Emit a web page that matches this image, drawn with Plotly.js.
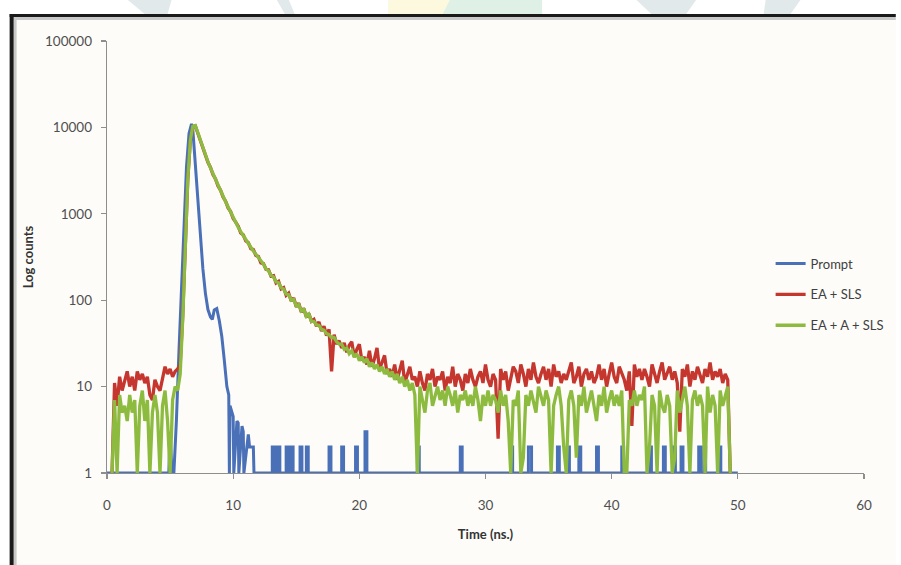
<!DOCTYPE html>
<html>
<head>
<meta charset="utf-8">
<script src="https://cdn.plot.ly/plotly-3.0.1.min.js"></script>
<style>
  html, body { margin: 0; padding: 0; background: #ffffff; }
  #chart { width: 901px; height: 565px; }
</style>
</head>
<body>
<div id="chart"></div>
<script>
// ---- Data ----
// Time axis (ns) for the two sample decays
const time = [
  0.4,0.6,0.8,1.0,1.2,1.4,1.6,1.8,2.0,2.2,
  2.4,2.6,2.8,3.0,3.2,3.4,3.6,3.8,4.0,4.2,
  4.4,4.6,4.8,5.0,5.2,5.4,5.6,5.8,6.0,6.2,
  6.4,6.6,6.8,7.0,7.2,7.4,7.6,7.8,8.0,8.2,
  8.4,8.6,8.8,9.0,9.2,9.4,9.6,9.8,10.0,10.2,
  10.4,10.6,10.8,11.0,11.2,11.4,11.6,11.8,12.0,12.2,
  12.4,12.6,12.8,13.0,13.2,13.4,13.6,13.8,14.0,14.2,
  14.4,14.6,14.8,15.0,15.2,15.4,15.6,15.8,16.0,16.2,
  16.4,16.6,16.8,17.0,17.2,17.4,17.6,17.8,18.0,18.2,
  18.4,18.6,18.8,19.0,19.2,19.4,19.6,19.8,20.0,20.2,
  20.4,20.6,20.8,21.0,21.2,21.4,21.6,21.8,22.0,22.2,
  22.4,22.6,22.8,23.0,23.2,23.4,23.6,23.8,24.0,24.2,
  24.4,24.6,24.8,25.0,25.2,25.4,25.6,25.8,26.0,26.2,
  26.4,26.6,26.8,27.0,27.2,27.4,27.6,27.8,28.0,28.2,
  28.4,28.6,28.8,29.0,29.2,29.4,29.6,29.8,30.0,30.2,
  30.4,30.6,30.8,31.0,31.2,31.4,31.6,31.8,32.0,32.2,
  32.4,32.6,32.8,33.0,33.2,33.4,33.6,33.8,34.0,34.2,
  34.4,34.6,34.8,35.0,35.2,35.4,35.6,35.8,36.0,36.2,
  36.4,36.6,36.8,37.0,37.2,37.4,37.6,37.8,38.0,38.2,
  38.4,38.6,38.8,39.0,39.2,39.4,39.6,39.8,40.0,40.2,
  40.4,40.6,40.8,41.0,41.2,41.4,41.6,41.8,42.0,42.2,
  42.4,42.6,42.8,43.0,43.2,43.4,43.6,43.8,44.0,44.2,
  44.4,44.6,44.8,45.0,45.2,45.4,45.6,45.8,46.0,46.2,
  46.4,46.6,46.8,47.0,47.2,47.4,47.6,47.8,48.0,48.2,
  48.4,48.6,48.8,49.0,49.2,49.4
];

// EA + SLS (counts)
const eaSls = [
  1,11,6,13,9,12,15,10,13,9,
  15,12,14,11,13,8,7,12,10,9,
  12,17,14,16,13,15,16,18,65,420,
  2450,6900,10200,10400,8500,7100,5700,4850,3950,3450,
  2850,2530,2100,1880,1560,1400,1170,1060,880,800,
  720,600,570,485,465,395,385,330,320,270,
  265,228,225,190,192,158,165,135,140,114,
  121,98,106,84,92,73,80,64,70,57,
  60,50,56,44,50,39,46,15,40,31,
  34,28,32,25,30,33,22,27,31,20,
  22,18,26,17,21,28,16,19,23,14,
  16,13,18,12,15,20,11,14,17,12,
  13,10,15,11,9,14,12,16,10,13,
  12,15,9,13,11,17,10,14,12,9,
  14,11,16,12,10,13,15,11,18,12,
  10,14,12,2.5,16,12,15,9,13,17,
  15,11,18,14,10,16,12,19,13,11,
  14,17,12,16,10,18,13,15,11,14,
  12,15,19,11,13,17,10,14,16,12,
  15,11,13,18,12,16,10,14,19,13,
  11,17,14,12,9,15,3.5,18,13,16,
  12,16,13,10,18,14,11,15,19,12,
  14,17,12,15,11,3,16,13,18,10,
  15,12,17,14,11,16,13,19,12,15,
  13,16,11,14,12,1
];

// EA + A + SLS (counts)
const eaASls = [
  1,7,1,8,5,6,4,8,5,7,
  1,6,9,4,7,1,5,8,5,1,
  6,9,4,1,7,10,9,14,60,400,
  2500,7000,10300,10500,8600,7000,5800,4800,4000,3400,
  2900,2500,2150,1850,1600,1380,1200,1040,900,790,
  700,620,555,500,450,410,372,340,310,282,
  262,230,220,193,186,163,159,139,135,118,
  116,100,102,86,89,75,78,65,69,57,
  57,52,51,46,45,41,40,37,37,33,
  31,31,27,28,24,26,22,24,20,22,
  19,21,17,19,16,18,15,17,14,16,
  13,15,12,14,11,13,10,12,9,11,
  8,1,10,7,5,9,11,6,8,10,
  7,9,6,10,8,6,9,5,8,7,
  9,6,8,6,10,7,4,8,6,9,
  6,8,7,5,9,6,8,4,1,7,
  6,9,1,1.5,8,6,9,7,5,10,
  8,6,9,7,1,6,8,10,6,2,
  1,7,9,6,1.5,8,6,10,5,7,
  9,6,4,8,6,10,5,7,9,6,
  8,6,9,1,1,7,6,9,6,8,
  7,10,1,2,8,6,1,9,6,5,
  8,6,1,1.5,9,5,7,10,6,1,
  7,9,6,8,6,1,10,5,8,6,
  1,9,6,8,10,1
];

// Prompt (instrument response): time and counts
const promptTime = [
  0,4.9,5.0,5.15,5.3,5.5,5.7,5.9,6.1,6.3,6.5,6.7,6.8,7.0,7.2,7.4,7.6,7.8,8.0,8.2,
  8.35,8.5,8.7,8.9,9.1,9.3,9.5,9.65,9.7,9.75,9.9,10.0,10.05,10.3,10.4,10.45,10.7,10.8,10.85,11.2,
  11.3,11.6,11.65,
  13.1,13.1,13.3,13.3, 13.5,13.5,13.7,13.7, 14.2,14.2,14.4,14.4, 14.55,14.55,14.75,14.75,
  15.3,15.3,15.45,15.45, 15.8,15.8,15.95,15.95, 17.6,17.6,17.75,17.75, 18.6,18.6,18.75,18.75,
  19.7,19.7,19.85,19.85, 20.45,20.45,20.6,20.6, 24.6,24.6,24.75,24.75, 28.0,28.0,28.15,28.15,
  32.0,32.0,32.15,32.15, 33.4,33.4,33.65,33.65, 35.7,35.7,35.85,35.85, 36.5,36.5,36.65,36.65,
  37.4,37.4,37.55,37.55, 38.8,38.8,38.95,38.95, 40.8,40.8,40.95,40.95, 43.0,43.0,43.15,43.15,
  44.1,44.1,44.25,44.25, 44.9,44.9,45.05,45.05, 45.5,45.5,45.65,45.65, 46.9,46.9,47.05,47.05,
  47.3,47.3,47.45,47.45, 48.5,48.5,48.65,48.65, 50.0
];
const promptCounts = [
  1,1,3,1,1,4,25,150,900,3500,8500,11000,9500,3800,1500,560,230,120,78,64,
  60,77,80,58,38,20,10,8,1,6,5,4.5,1,4,3.8,1,3.5,3,1,2.8,
  2,2,1,
  1,2,2,1, 1,2,2,1, 1,2,2,1, 1,2,2,1,
  1,2,2,1, 1,2,2,1, 1,2,2,1, 1,2,2,1,
  1,2,2,1, 1,3,3,1, 1,2,2,1, 1,2,2,1,
  1,2,2,1, 1,2,2,1, 1,2,2,1, 1,2,2,1,
  1,2,2,1, 1,2,2,1, 1,2,2,1, 1,2,2,1,
  1,2,2,1, 1,2,2,1, 1,2,2,1, 1,2,2,1,
  1,2,2,1, 1,2,2,1, 1
];

const seriesNames = ['Prompt', 'EA + SLS', 'EA + A + SLS'];
const xTicks = [0, 10, 20, 30, 40, 50, 60];
const yTicks = [1, 10, 100, 1000, 10000, 100000];
const yTickText = ['1', '10', '100', '1000', '10000', '100000'];

// ---- Layout helpers (pixel -> paper) ----
const W = 901, H = 565;
const M = { l: 107, r: 32, t: 41, b: 92 };
const PW = W - M.l - M.r, PH = H - M.t - M.b;
const px = x => (x - M.l) / PW;
const py = y => (H - M.b - y) / PH;

const colors = ['#4A70B8', '#C4362E', '#8DBB3F'];
const widths = [3.0, 3.3, 3.3];

const traces = [
  { x: promptTime, y: promptCounts, name: seriesNames[0], legendgroup: 'a' },
  { x: time, y: eaSls, name: seriesNames[1], legendgroup: 'b' },
  { x: time, y: eaASls, name: seriesNames[2], legendgroup: 'c' }
].map((t, i) => Object.assign(t, {
  type: 'scatter', mode: 'lines',
  line: { color: colors[i], width: widths[i] },
  hoverinfo: 'skip'
}));

const font = 'Lato, "Open Sans", "DejaVu Sans", sans-serif';

const shapes = [
  // frame background
  { type: 'rect', xref: 'paper', yref: 'paper', x0: px(11), x1: px(901), y0: py(565), y1: py(16),
    fillcolor: '#FDFCF9', line: { width: 0 }, layer: 'below' },
  // soft shadow under the top border and beside the left border
  { type: 'line', xref: 'paper', yref: 'paper', x0: px(12), x1: px(901), y0: py(18.5), y1: py(18.5),
    line: { color: '#C8C8C8', width: 3 }, layer: 'below' },
  { type: 'line', xref: 'paper', yref: 'paper', x0: px(14.5), x1: px(14.5), y0: py(18), y1: py(565),
    line: { color: '#C8C8C8', width: 3 }, layer: 'below' },
  // black frame border (top and left)
  { type: 'line', xref: 'paper', yref: 'paper', x0: px(9), x1: px(901), y0: py(15.5), y1: py(15.5),
    line: { color: '#1a1a1a', width: 3 } },
  { type: 'line', xref: 'paper', yref: 'paper', x0: px(11), x1: px(11), y0: py(14), y1: py(565),
    line: { color: '#1a1a1a', width: 4 } },
  // faint watermark pieces above the frame
  { type: 'path', xref: 'paper', yref: 'paper',
    path: `M ${px(128)} ${py(0)} L ${px(172)} ${py(0)} L ${px(168)} ${py(14)} L ${px(145)} ${py(14)} Z`,
    fillcolor: '#E2E9EA', line: { width: 0 }, layer: 'below' },
  { type: 'path', xref: 'paper', yref: 'paper',
    path: `M ${px(278)} ${py(0)} L ${px(290)} ${py(0)} L ${px(296)} ${py(14)} L ${px(286)} ${py(14)} Z`,
    fillcolor: '#E2E9EA', line: { width: 0 }, layer: 'below' },
  { type: 'rect', xref: 'paper', yref: 'paper', x0: px(390), x1: px(452), y0: py(14), y1: py(0),
    fillcolor: '#FCF9DE', line: { width: 0 }, layer: 'below' },
  { type: 'path', xref: 'paper', yref: 'paper',
    path: `M ${px(452)} ${py(0)} L ${px(545)} ${py(0)} L ${px(545)} ${py(14)} L ${px(445)} ${py(14)} Z`,
    fillcolor: '#DFF1E6', line: { width: 0 }, layer: 'below' },
  { type: 'path', xref: 'paper', yref: 'paper',
    path: `M ${px(640)} ${py(0)} L ${px(700)} ${py(0)} L ${px(690)} ${py(14)} L ${px(655)} ${py(14)} Z`,
    fillcolor: '#E2E9EA', line: { width: 0 }, layer: 'below' },
  { type: 'path', xref: 'paper', yref: 'paper',
    path: `M ${px(770)} ${py(0)} L ${px(805)} ${py(0)} L ${px(795)} ${py(14)} L ${px(768)} ${py(14)} Z`,
    fillcolor: '#E2E9EA', line: { width: 0 }, layer: 'below' }
];

const axisCommon = {
  showline: true, linecolor: '#8E8E8E', linewidth: 1.3,
  ticks: 'outside', ticklen: 5, tickwidth: 1.3, tickcolor: '#8E8E8E',
  showgrid: false, zeroline: false, fixedrange: true,
  layer: 'below traces',
  tickfont: { family: font, size: 13.5, color: '#4F4F4F' }
};

const layout = {
  width: W, height: H,
  margin: M,
  paper_bgcolor: '#FFFFFF',
  plot_bgcolor: 'rgba(0,0,0,0)',
  showlegend: true,
  legend: {
    x: px(775), xanchor: 'left', y: py(248.5), yanchor: 'top',
    font: { family: font, size: 13, color: '#404040' },
    bgcolor: 'rgba(0,0,0,0)', borderwidth: 0,
    traceorder: 'grouped', tracegroupgap: 11, itemwidth: 30
  },
  xaxis: Object.assign({}, axisCommon, {
    range: [0, 60], tickmode: 'array', tickvals: xTicks,
    ticklabelstandoff: 14,
    title: { text: 'Time (ns.)', standoff: 18,
      font: { family: font, size: 13, color: '#333333', weight: 'bold' } }
  }),
  yaxis: Object.assign({}, axisCommon, {
    type: 'log', range: [0, 5], tickmode: 'array',
    tickvals: yTicks, ticktext: yTickText,
    ticklabelstandoff: 6,
    title: { text: 'Log counts', standoff: 8,
      font: { family: font, size: 13, color: '#333333', weight: 'bold' } }
  }),
  shapes: shapes
};

Plotly.newPlot('chart', traces, layout, { displayModeBar: false, staticPlot: true });
</script>
</body>
</html>
